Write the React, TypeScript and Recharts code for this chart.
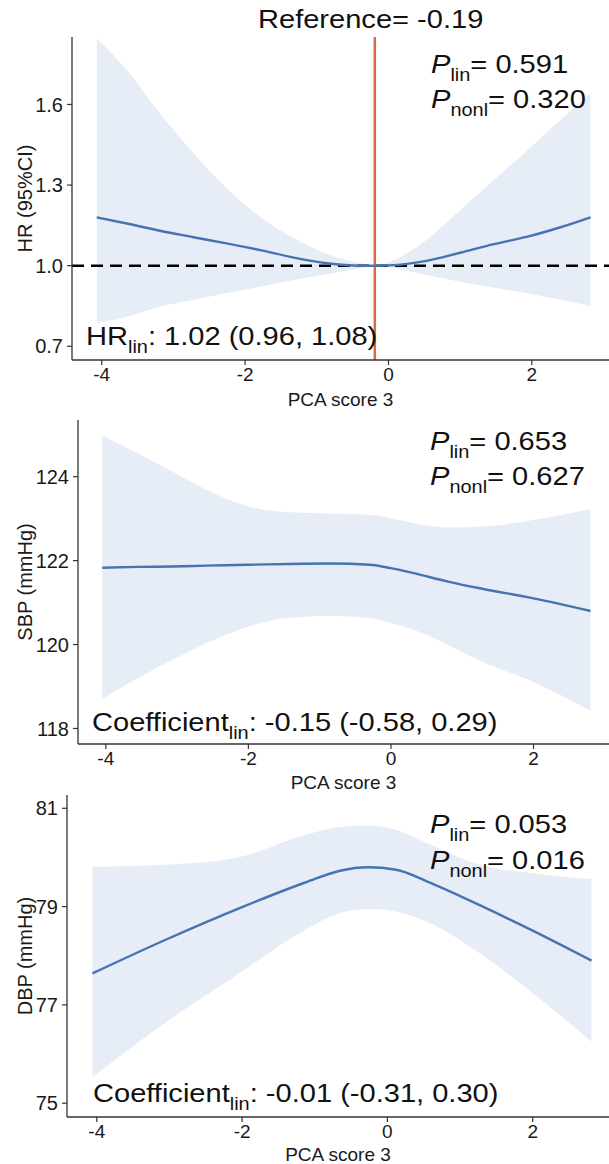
import React from 'react';
import {
  ComposedChart,
  Area,
  Line,
  XAxis,
  YAxis,
  ReferenceLine,
} from 'recharts';

// HR panel
const hrX = [-4.07, -3.65, -3.19, -2.72, -2.26, -1.79, -1.32, -0.86, -0.4, -0.19, 0.07, 0.53, 1.0, 1.47, 1.94, 2.4, 2.82];
const hrFit = [1.18, 1.157, 1.13, 1.106, 1.083, 1.058, 1.03, 1.009, 1.0, 1.0, 1.002, 1.018, 1.048, 1.08, 1.108, 1.143, 1.18];
const hrLow = [0.786, 0.81, 0.847, 0.872, 0.897, 0.922, 0.947, 0.968, 0.99, 1.0, 0.99, 0.965, 0.94, 0.918, 0.897, 0.873, 0.85];
const hrUp = [1.846, 1.728, 1.567, 1.418, 1.289, 1.182, 1.103, 1.044, 1.01, 1.0, 1.02, 1.096, 1.207, 1.319, 1.43, 1.542, 1.642];

// SBP panel
const sbpX = [-4.05, -3.55, -3.07, -2.59, -2, -1.42, -0.84, -0.3, 0, 0.32, 0.8, 1.28, 2, 2.8];
const sbpFit = [121.83, 121.85, 121.86, 121.88, 121.9, 121.92, 121.93, 121.9, 121.82, 121.7, 121.5, 121.33, 121.1, 120.8];
const sbpLow = [118.7, 119.2, 119.63, 120.03, 120.43, 120.64, 120.68, 120.63, 120.51, 120.35, 119.99, 119.59, 119.11, 118.42];
const sbpUp = [124.98, 124.56, 124.12, 123.69, 123.29, 123.15, 123.12, 123.09, 123.01, 122.89, 122.79, 122.81, 122.97, 123.23];

// DBP panel
const dbpX = [-4.06, -3.06, -2, -1.13, -0.65, -0.27, 0.12, 0.55, 1.27, 2, 2.81];
const dbpFit = [77.64, 78.32, 78.99, 79.49, 79.73, 79.8, 79.75, 79.51, 79.03, 78.51, 77.9];
const dbpLow = [75.53, 76.63, 77.68, 78.53, 78.87, 78.95, 78.9, 78.69, 78.05, 77.24, 76.25];
const dbpUp = [79.81, 79.85, 80.02, 80.46, 80.62, 80.65, 80.56, 80.29, 79.85, 79.68, 79.56];

const xTicks = [-4, -2, 0, 2];
const hrTicks = [0.7, 1.0, 1.3, 1.6];
const sbpTicks = [118, 120, 122, 124];
const dbpTicks = [75, 77, 79, 81];

const FONT = '"Liberation Sans", Arial, Helvetica, sans-serif';
const LINE = '#4673b1';
const BAND = '#e7edf6';
const AXIS = '#333333';
const SX = 1.14;

const rows = (xs: number[], fit: number[], lo: number[], hi: number[]) =>
  xs.map((x, i) => ({ x, fit: fit[i], band: [lo[i], hi[i]] }));

const YTitle = (props: any) => {
  const { viewBox, value } = props;
  const cx = 25;
  const cy = viewBox.y + viewBox.height / 2;
  return (
    <text
      x={cx}
      y={cy}
      transform={`rotate(-90, ${cx}, ${cy})`}
      textAnchor="middle"
      dominantBaseline="central"
      fontSize={20}
      fontFamily={FONT}
      fill="#1a1a1a"
    >
      {value}
    </text>
  );
};

const Big = ({ x, y, children }: any) => (
  <text
    transform={`translate(${x},${y}) scale(${SX},1)`}
    fontSize={25.5}
    fontFamily={FONT}
    fill="#111"
  >
    {children}
  </text>
);

const Sub = ({ main, sub, rest, italic }: any) => (
  <>
    <tspan fontStyle={italic ? 'italic' : 'normal'}>{main}</tspan>
    <tspan fontSize={17.5} dy={7.5}>{sub}</tspan>
    <tspan dy={-7.5}>{rest}</tspan>
  </>
);

type PanelProps = {
  top: number;
  height: number;
  marginTop: number;
  yWidth: number;
  xHeight: number;
  xDomain: [number, number];
  yDomain: [number, number];
  yTicks: number[];
  yFmt: (v: number) => string;
  yTitle: string;
  data: any[];
  labelOffset: number;
  children?: React.ReactNode;
  annot: React.ReactNode;
};

const Panel = (p: PanelProps) => (
  <div style={{ position: 'absolute', left: 0, top: p.top, width: 609, height: p.height }}>
    <ComposedChart
      width={609}
      height={p.height}
      data={p.data}
      margin={{ top: p.marginTop, right: 0, left: 0, bottom: 0 }}
    >
      <XAxis
        type="number"
        dataKey="x"
        domain={p.xDomain}
        ticks={xTicks}
        allowDataOverflow
        height={p.xHeight}
        tickSize={5}
        tickMargin={3}
        axisLine={{ stroke: AXIS, strokeWidth: 1.3 }}
        tickLine={{ stroke: AXIS, strokeWidth: 1.2 }}
        tick={{ fontSize: 19, fill: '#1a1a1a', fontFamily: FONT }}
        label={{
          value: 'PCA score 3',
          position: 'insideBottom',
          offset: p.labelOffset,
          fontSize: 19,
          fill: '#1a1a1a',
          fontFamily: FONT,
        }}
      />
      <YAxis
        type="number"
        domain={p.yDomain}
        ticks={p.yTicks}
        allowDataOverflow
        width={p.yWidth}
        tickSize={5}
        tickMargin={4}
        tickFormatter={p.yFmt}
        axisLine={{ stroke: AXIS, strokeWidth: 1.3 }}
        tickLine={{ stroke: AXIS, strokeWidth: 1.2 }}
        tick={{ fontSize: 20, fill: '#1a1a1a', fontFamily: FONT }}
        label={<YTitle value={p.yTitle} />}
      />
      <Area
        type="monotone"
        dataKey="band"
        stroke="none"
        fill={BAND}
        fillOpacity={1}
        isAnimationActive={false}
        activeDot={false}
      />
      {p.children}
      <Line
        type="monotone"
        dataKey="fit"
        stroke={LINE}
        strokeWidth={2.4}
        dot={false}
        activeDot={false}
        isAnimationActive={false}
      />
    </ComposedChart>
    <svg
      width={609}
      height={p.height}
      style={{ position: 'absolute', left: 0, top: 0, pointerEvents: 'none' }}
    >
      {p.annot}
    </svg>
  </div>
);

export default function App() {
  return (
    <div style={{ position: 'absolute', left: 0, top: 0, width: 609, height: 1164, background: '#fff' }}>
      <Panel
        top={0}
        height={412}
        marginTop={37}
        yWidth={72}
        xHeight={52}
        xDomain={[-4.415, 3.077]}
        yDomain={[0.649, 1.851]}
        yTicks={hrTicks}
        yFmt={(v) => v.toFixed(1)}
        yTitle="HR (95%CI)"
        data={rows(hrX, hrFit, hrLow, hrUp)}
        labelOffset={6}
        annot={
          <>
            <Big x={258} y={28}>Reference= -0.19</Big>
            <Big x={431} y={73}>
              <Sub main="P" sub="lin" rest="= 0.591" italic />
            </Big>
            <Big x={431} y={108}>
              <Sub main="P" sub="nonl" rest="= 0.320" italic />
            </Big>
            <Big x={86} y={345}>
              <Sub main="HR" sub="lin" rest=": 1.02 (0.96, 1.08)" />
            </Big>
          </>
        }
      >
        <ReferenceLine y={1} stroke="#000" strokeWidth={2.5} strokeDasharray="12 7" />
        <ReferenceLine x={-0.19} stroke="#db6b3e" strokeWidth={2.5} />
      </Panel>
      <Panel
        top={412}
        height={380}
        marginTop={8}
        yWidth={78}
        xHeight={48}
        xDomain={[-4.39, 3.059]}
        yDomain={[117.63, 125.35]}
        yTicks={sbpTicks}
        yFmt={(v) => String(v)}
        yTitle="SBP (mmHg)"
        data={rows(sbpX, sbpFit, sbpLow, sbpUp)}
        labelOffset={3}
        annot={
          <>
            <Big x={430} y={38}>
              <Sub main="P" sub="lin" rest="= 0.653" italic />
            </Big>
            <Big x={430} y={73}>
              <Sub main="P" sub="nonl" rest="= 0.627" italic />
            </Big>
            <Big x={92} y={319}>
              <Sub main="Coefficient" sub="lin" rest=": -0.15 (-0.58, 0.29)" />
            </Big>
          </>
        }
      />
      <Panel
        top={792}
        height={372}
        marginTop={3}
        yWidth={67}
        xHeight={47}
        xDomain={[-4.41, 3.05]}
        yDomain={[74.72, 81.27]}
        yTicks={dbpTicks}
        yFmt={(v) => String(v)}
        yTitle="DBP (mmHg)"
        data={rows(dbpX, dbpFit, dbpLow, dbpUp)}
        labelOffset={3}
        annot={
          <>
            <Big x={430} y={41}>
              <Sub main="P" sub="lin" rest="= 0.053" italic />
            </Big>
            <Big x={430} y={77}>
              <Sub main="P" sub="nonl" rest="= 0.016" italic />
            </Big>
            <Big x={93} y={310}>
              <Sub main="Coefficient" sub="lin" rest=": -0.01 (-0.31, 0.30)" />
            </Big>
          </>
        }
      />
    </div>
  );
}
